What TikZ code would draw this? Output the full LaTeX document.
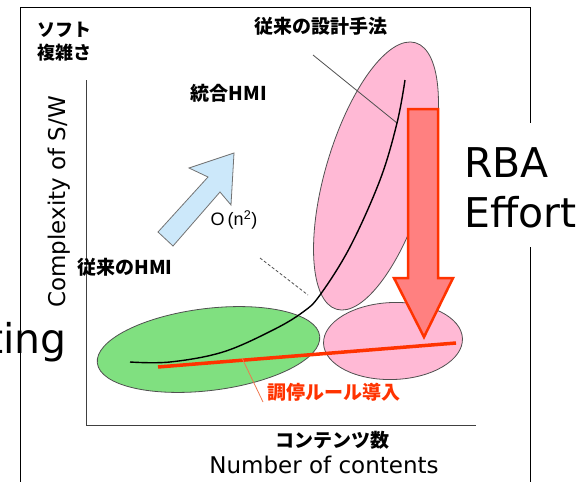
\documentclass[tikz,border=0pt]{standalone}
\usepackage{fontspec}
\setmainfont{DejaVu Sans}
\newfontfamily\jp{Noto Sans CJK JP}
\newfontfamily\arialf{Liberation Sans}
\usetikzlibrary{shapes.geometric}
\definecolor{pinkfill}{HTML}{FFB9D5}
\definecolor{greenfill}{HTML}{80E080}
\definecolor{bluefill}{HTML}{CCE8FA}
\definecolor{redarrow}{HTML}{FF8080}
\definecolor{redline}{HTML}{FF3300}
\definecolor{edgegray}{HTML}{505050}
\definecolor{labelline}{HTML}{F07850}
\tikzset{
  blob/.style={ellipse, draw=edgegray, line width=0.8pt, inner sep=0pt},
  jlabel/.style={inner sep=0pt, font=\jp\bfseries\fontsize{19}{22}\selectfont},
  biglabel/.style={inner sep=0pt, font=\fontsize{41}{50}\selectfont},
  axlabel/.style={inner sep=0pt, font=\fontsize{23}{27}\selectfont},
  frameline/.style={line width=1pt, black},
  axisline/.style={line width=1pt, draw=black!75},
}
\begin{document}
\begin{tikzpicture}[x=1pt, y=-1pt]
\clip (0,0) rectangle (584,482);
\fill[white] (0,0) rectangle (584,482);

% frame
\draw[frameline] (20,482) -- (20,7) -- (530,7) -- (530,123);
\draw[frameline] (530,247) -- (530,482);

% axes
\draw[axisline] (86,80) -- (86,425) -- (476,425);

% ellipses
\node[blob, fill=greenfill, minimum width=224pt, minimum height=82pt, rotate=7] (green) at (208.5,349.5) {};
\node[blob, fill=pinkfill, minimum width=139pt, minimum height=77pt, rotate=2] (pinksmall) at (393,341) {};
\node[blob, fill=pinkfill, minimum width=278pt, minimum height=101pt, rotate=73.5] (pinkbig) at (376,176) {};

% helper lines
\coordinate (leadA) at (313,55);
\coordinate (leadB) at (397,123);
\draw[edgegray, line width=0.8pt] (leadA) -- (leadB);
\coordinate (dashA) at (260,258);
\coordinate (dashB) at (308,295);
\draw[edgegray, line width=0.8pt, dash pattern=on 3pt off 2pt] (dashA) -- (dashB);

% black curve
\coordinate (cs) at (130,362);
\coordinate (ce) at (405,80);
\draw[black, line width=1.4pt] plot[smooth, tension=0.6] coordinates
  {(cs) (170,362) (223,352) (273,330) (303,312) (320,295) (350,247) (380,180) (397,123) (ce)};

% red line and label line
\coordinate (rs) at (158,367);
\coordinate (re) at (456,343);
\draw[redline, line width=3.5pt] (rs) -- (re);
\coordinate (la) at (242,358);
\coordinate (lb) at (263,402);
\draw[labelline, line width=0.8pt] (la) -- (lb);

% blue arrow
\draw[fill=bluefill, draw=black!55, line width=0.8pt, line join=miter]
  (234,153) -- (189,168) -- (208,177) -- (158,232) -- (173,246) -- (220,192) -- (231,205) -- cycle;

% red arrow
\draw[fill=redarrow, draw=redline, line width=2.5pt, line join=miter]
  (408,109) -- (438,109) -- (438,278) -- (453,278) -- (424,337) -- (394,278) -- (408,278) -- cycle;

% texts
\node[jlabel, anchor=west, font=\jp\bfseries\fontsize{18}{22}\selectfont] (soft1) at (37,30) {ソフト};
\node[jlabel, anchor=west, font=\jp\bfseries\fontsize{18}{22}\selectfont] (soft2) at (37,53) {複雑さ};
\node[jlabel] (conv) at (321,26) {従来の設計手法};
\node[jlabel] (integ) at (229,93) {統合HMI};
\node[jlabel] (convhmi) at (125,267) {従来のHMI};
\node[inner sep=0pt, font=\arialf\fontsize{18}{20}\selectfont] (order) at (234,220) {O\,(n\textsuperscript{2})};
\node[jlabel, anchor=west, text=redline] (arb) at (267,392) {調停ルール導入};
\node[jlabel] (ncont) at (332,440) {コンテンツ数};
\node[axlabel, anchor=base] (numc) at (324,473) {Number of contents};
\node[axlabel, anchor=base west, rotate=90] (cplx) at (65,308) {Complexity of S/W};
\node[biglabel, anchor=base west] (rba) at (464,177) {RBA};
\node[biglabel, anchor=base west] (eff) at (464,227) {Effort};
\node[biglabel, anchor=base east] (ting) at (67,353) {ting};
\end{tikzpicture}
\end{document}
